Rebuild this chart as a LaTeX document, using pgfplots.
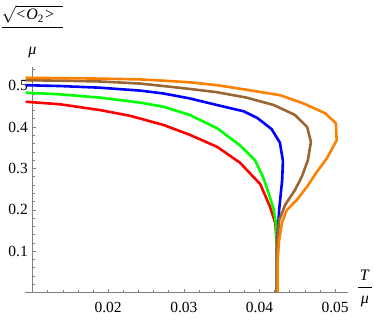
\documentclass[border=0pt]{standalone}
\usepackage{pgfplots}
\pgfplotsset{compat=1.18}
\usepackage{fontspec}
\setmainfont{Liberation Serif}
\definecolor{mbrown}{rgb}{0.6,0.4,0.2}
\definecolor{morange}{rgb}{1,0.5,0}
\definecolor{mgreen}{rgb}{0,1,0}
\begin{document}
\begin{tikzpicture}[font=\fontsize{15.5}{18}\selectfont]
\begin{axis}[
  scale only axis,
  width=315.5pt, height=225.5pt,
  xmin=0.01, xmax=0.0517,
  ymin=0, ymax=0.545,
  clip=false,
  axis x line=bottom, axis y line=left,
  axis line style={-, gray, line width=0.6pt},
  x axis line style={shorten <=-7.5pt},
  tick align=inside,
  tick style={gray, line width=0.5pt},
  major tick length=4pt, minor tick length=2.5pt,
  xtick={0.02,0.03,0.04,0.05},
  xticklabels={0.02,0.03,0.04,0.05},
  minor xtick={0.012,0.014,0.016,0.018,0.022,0.024,0.026,0.028,0.032,0.034,0.036,0.038,0.042,0.044,0.046,0.048},
  ytick={0.1,0.2,0.3,0.4,0.5},
  yticklabels={0.1,0.2,0.3,0.4,0.5},
  minor ytick={0.02,0.04,0.06,0.08,0.12,0.14,0.16,0.18,0.22,0.24,0.26,0.28,0.32,0.34,0.36,0.38,0.42,0.44,0.46,0.48,0.52,0.54},
  tick label style={font=\fontsize{15.5}{18}\selectfont, black},
  xticklabel style={inner sep=0pt, yshift=-9pt},
  yticklabel style={inner sep=1pt, xshift=-3.5pt},
  /pgf/number format/assume math mode=true,
  xlabel={$\displaystyle\frac{\hbox{\kern2pt\textit{T}\kern2pt}}{\hbox{\textit{μ}}}$},
  xlabel style={font=\fontsize{16}{18}\selectfont, at={(rel axis cs:1,0)}, anchor=west, inner sep=0pt, xshift=8.5pt, yshift=4pt},
  ylabel={$\displaystyle\frac{\sqrt{\rule{0pt}{11pt}\hbox{<\kern1pt\textit{O}\textsubscript{2}\kern1pt>}\hspace{9pt}}}{\rule{0pt}{26pt}\hbox{\textit{μ}}}$},
  ylabel style={font=\fontsize{16}{18}\selectfont, rotate=-90, at={(rel axis cs:0,1)}, anchor=south, inner sep=0pt, yshift=9pt},
  every axis plot/.append style={line width=2.6pt, line join=round},
]
\addplot[red, mark=none] coordinates {
(0.0091,0.461) (0.0136,0.455) (0.0189,0.441) (0.0229,0.427) (0.0273,0.405) (0.0308,0.381) (0.0344,0.352) (0.0374,0.314) (0.0401,0.262) (0.0414,0.207) (0.0421,0.167) (0.0423,0.11) (0.0423,0.0)};
\addplot[mgreen, mark=none] coordinates {
(0.0091,0.483) (0.0136,0.479) (0.0189,0.471) (0.0242,0.459) (0.0273,0.449) (0.0308,0.429) (0.0344,0.397) (0.0374,0.356) (0.0394,0.320) (0.0405,0.278) (0.0413,0.235) (0.0419,0.200) (0.0422,0.165) (0.0423,0.11) (0.0423,0.0)};
\addplot[blue, mark=none] coordinates {
(0.0091,0.501) (0.0136,0.499) (0.0189,0.495) (0.0242,0.488) (0.0273,0.481) (0.0308,0.469) (0.0344,0.453) (0.0379,0.438) (0.0397,0.422) (0.0416,0.395) (0.0427,0.362) (0.0431,0.318) (0.0430,0.272) (0.0426,0.20) (0.0424,0.14) (0.0423,0.10) (0.0423,0.0)};
\addplot[mbrown, mark=none] coordinates {
(0.0091,0.513) (0.0136,0.512) (0.0189,0.510) (0.0242,0.505) (0.0273,0.499) (0.0308,0.492) (0.0344,0.484) (0.0383,0.471) (0.0419,0.453) (0.0447,0.429) (0.0463,0.400) (0.0468,0.364) (0.0464,0.320) (0.0456,0.280) (0.0447,0.248) (0.0434,0.212) (0.0426,0.175) (0.0424,0.135) (0.0423,0.10) (0.0423,0.0)};
\addplot[morange, mark=none] coordinates {
(0.0091,0.519) (0.0136,0.518) (0.0189,0.517) (0.0242,0.515) (0.0273,0.512) (0.0308,0.508) (0.0344,0.501) (0.0383,0.490) (0.0427,0.477) (0.0458,0.457) (0.0487,0.433) (0.0501,0.409) (0.0502,0.368) (0.0489,0.324) (0.0476,0.292) (0.0463,0.256) (0.0449,0.223) (0.0436,0.199) (0.0430,0.171) (0.0426,0.127) (0.0424,0.079) (0.0424,0.0)};
\end{axis}
\pgfresetboundingbox
\path[use as bounding box] ([xshift=-32.5pt,yshift=-26.5pt]current axis.south west) rectangle ([xshift=26pt,yshift=67pt]current axis.north east);
\end{tikzpicture}
\end{document}
